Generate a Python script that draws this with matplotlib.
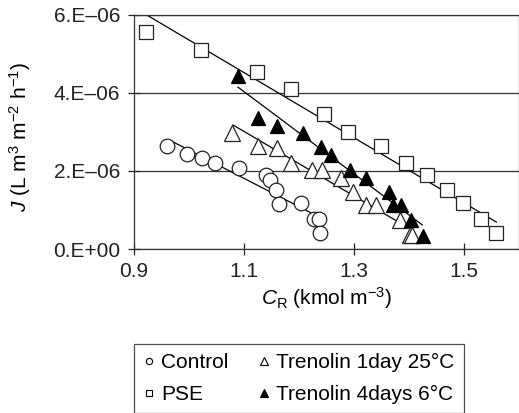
import numpy as np
import matplotlib.pyplot as plt
from matplotlib.lines import Line2D

plt.rcParams['font.family'] = ['Liberation Sans', 'DejaVu Sans']
plt.rcParams['mathtext.fontset'] = 'custom'
plt.rcParams['mathtext.rm'] = 'Liberation Sans'
plt.rcParams['mathtext.it'] = 'Liberation Sans:italic'

# Data (C_R in kmol m^-3, J in L m^3 m^-2 h^-1)
control_x = [0.961, 0.997, 1.024, 1.048, 1.091, 1.141, 1.148, 1.159, 1.163, 1.203, 1.228, 1.237, 1.239]
control_y = [2.64e-6, 2.43e-6, 2.33e-6, 2.21e-6, 2.07e-6, 1.90e-6, 1.77e-6, 1.51e-6, 1.15e-6, 1.18e-6, 0.77e-6, 0.77e-6, 0.41e-6]

pse_x = [0.922, 1.022, 1.123, 1.185, 1.246, 1.289, 1.350, 1.394, 1.433, 1.469, 1.498, 1.531, 1.559]
pse_y = [5.56e-6, 5.10e-6, 4.54e-6, 4.10e-6, 3.46e-6, 3.00e-6, 2.64e-6, 2.20e-6, 1.90e-6, 1.51e-6, 1.18e-6, 0.77e-6, 0.41e-6]

tren1_x = [1.078, 1.125, 1.161, 1.186, 1.223, 1.242, 1.277, 1.298, 1.322, 1.340, 1.383, 1.401, 1.406]
tren1_y = [2.97e-6, 2.64e-6, 2.59e-6, 2.20e-6, 2.03e-6, 2.03e-6, 1.82e-6, 1.46e-6, 1.13e-6, 1.13e-6, 0.74e-6, 0.36e-6, 0.36e-6]

tren4_x = [1.089, 1.125, 1.161, 1.208, 1.240, 1.259, 1.292, 1.322, 1.364, 1.371, 1.385, 1.403, 1.426]
tren4_y = [4.44e-6, 3.36e-6, 3.15e-6, 2.97e-6, 2.62e-6, 2.41e-6, 2.03e-6, 1.82e-6, 1.46e-6, 1.13e-6, 1.13e-6, 0.74e-6, 0.33e-6]

# trend lines (end points)
control_fit = ([0.965, 1.241], [2.79e-6, 0.79e-6])
pse_fit = ([0.923, 1.559], [6.0e-6, 0.69e-6])
tren1_fit = ([1.080, 1.397], [3.18e-6, 0.56e-6])
tren4_fit = ([1.089, 1.424], [4.15e-6, 0.62e-6])

fig = plt.figure(figsize=(5.19, 4.13), dpi=100)
ax = fig.add_axes([0.258, 0.397, 0.742, 0.567])

ms = 10.5
ax.plot(*control_fit, color='black', lw=0.9)
ax.plot(*pse_fit, color='black', lw=0.9)
ax.plot(*tren1_fit, color='black', lw=0.9)
ax.plot(*tren4_fit, color='black', lw=0.9)
ax.plot(control_x, control_y, 'o', ms=ms, mfc='white', mec='#222222', mew=0.9)
ax.plot(pse_x, pse_y, 's', ms=ms, mfc='white', mec='#222222', mew=0.9)
ax.plot(tren1_x, tren1_y, '^', ms=ms + 1, mfc='white', mec='#222222', mew=0.9)
ax.plot(tren4_x, tren4_y, '^', ms=ms, mfc='black', mec='black', mew=0.9)

ax.set_xlim(0.9, 1.6)
ax.set_ylim(0, 6e-6)
ax.set_xticks([0.9, 1.1, 1.3, 1.5])
ax.set_xticklabels(['0.9', '1.1', '1.3', '1.5'])
ax.set_yticks([0, 2e-6, 4e-6, 6e-6])
ax.set_yticklabels(['0.E+00', '2.E\u201306', '4.E\u201306', '6.E\u201306'])
ax.tick_params(labelsize=15, direction='inout', length=8, width=0.9, colors='#222222')
ax.tick_params(axis='x', pad=5)
ax.tick_params(axis='y', pad=6)
ax.yaxis.grid(True, color='#333333', lw=0.9)
for s in ax.spines.values():
    s.set_color('#333333')
    s.set_linewidth(0.9)

ax.set_xlabel(r'$\mathit{C}_{\mathrm{R}}$ (kmol m$^{-3}$)', fontsize=15, labelpad=3)
ax.set_ylabel(r'$\mathit{J}$ (L m$^{3}$ m$^{-2}$ h$^{-1}$)', fontsize=15)
ax.yaxis.set_label_coords(-0.262, 0.48)

handles = [
    Line2D([], [], ls='', marker='o', ms=4.5, mfc='white', mec='black', mew=0.8),
    Line2D([], [], ls='', marker='s', ms=4.5, mfc='white', mec='black', mew=0.8),
    Line2D([], [], ls='', marker='^', ms=5.5, mfc='white', mec='black', mew=0.8),
    Line2D([], [], ls='', marker='^', ms=5.5, mfc='black', mec='black', mew=0.8),
]
labels = ['Control', 'PSE', 'Trenolin 1day 25\u00b0C', 'Trenolin 4days 6\u00b0C']
leg = fig.legend(handles, labels, ncol=2, loc='upper left',
                 bbox_to_anchor=(134 / 519, 1 - 344 / 413),
                 fontsize=15, frameon=True, fancybox=False,
                 handlelength=0.5, handletextpad=0.35, columnspacing=1.45,
                 borderpad=0.45, labelspacing=0.6, borderaxespad=0)
leg.get_frame().set_edgecolor('#222222')
leg.get_frame().set_linewidth(0.9)

fig.savefig('out.png', dpi=100)
